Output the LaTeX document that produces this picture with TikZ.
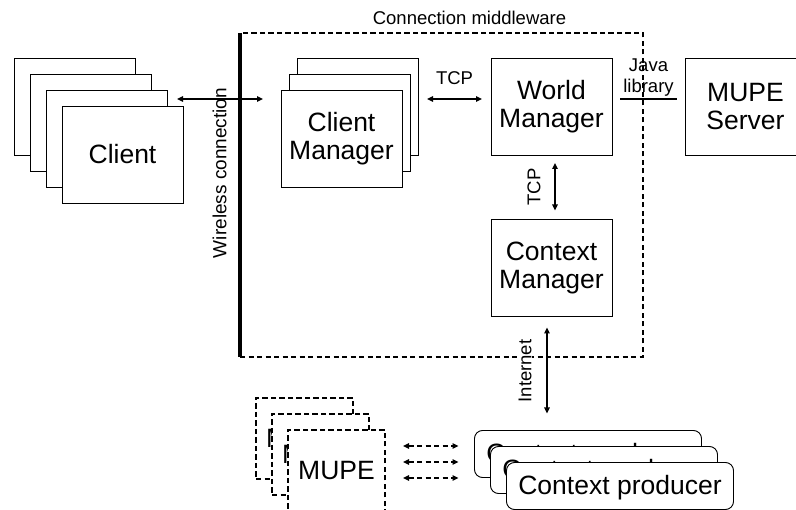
\documentclass[tikz,border=0pt]{standalone}
\usepackage{fontspec}
\setmainfont{Liberation Sans}
\usetikzlibrary{arrows.meta}

\newcommand{\boxfont}{\fontsize{26.5}{28.5}\selectfont}
\newcommand{\lblfont}{\fontsize{18.5}{21}\selectfont}

\tikzset{
  box/.style={draw, line width=0.9pt, fill=white, outer sep=0pt, inner sep=0pt,
    minimum width=121pt, minimum height=97pt, align=center, font=\boxfont},
  mupebox/.style={draw, line width=1.5pt, dash pattern=on 5.3pt off 3.2pt, fill=white,
    outer sep=0pt, inner sep=0pt, minimum width=97pt, minimum height=81pt, font=\boxfont},
  prodbox/.style={draw, line width=0.9pt, fill=white, rounded corners=8pt, outer sep=0pt,
    inner sep=0pt, minimum width=227pt, minimum height=47pt, text depth=2.6pt, font=\boxfont},
  mwbox/.style={draw, line width=1.5pt, dash pattern=on 5.3pt off 3.2pt, outer sep=0pt,
    minimum width=403pt, minimum height=324pt},
  lbl/.style={font=\lblfont, inner sep=0pt},
  biarrow/.style={>={Triangle[length=6pt,width=5.5pt]}, <->, line width=1.5pt},
  dbiarrow/.style={biarrow, dash pattern=on 5.3pt off 3.2pt},
}

\begin{document}
\begin{tikzpicture}[x=1pt, y=-1pt]
  \useasboundingbox (0,0) rectangle (796,510);
  \clip (0,0) rectangle (796,510);

  \node [mwbox] (mw) at (441.5,195) {};
  \node [lbl, anchor=base] (mwlbl) at (469.5,25) {Connection middleware};
  \draw [line width=4pt] (mw.north west) -- (mw.south west);
  \node [lbl, rotate=90, font=\fontsize{19}{21}\selectfont] (wl) at (219.5,173) {Wireless connection};

  \foreach \i in {1,2,3}
    \node [box] (cl\i) at ({58.5+16*\i},{90.5+16*\i}) {};
  \node [box] (cl4) at (122.5,154.5) {Client};

  \foreach \i in {1,2}
    \node [box] (cm\i) at ({365.5-8*\i},{90.5+16*\i}) {};
  \node [box] (cm3) at (341.5,138.5) {Client\\Manager};

  \node [box] (wm) at (551.5,106.5) {World\\Manager};
  \node [box] (ms) at (745.5,106.5) {MUPE\\Server};
  \node [box] (cxm) at (551.5,268) {Context\\Manager};

  \foreach \i in {1,2,3}
    \node [mupebox] (mu\i) at ({288.5+16*\i},{422.5+16*\i}) {MUPE};
  \foreach \i in {1,2,3}
    \node [prodbox] (cp\i) at ({572+16*\i},{438+16*\i}) {Context producer};

  \draw [biarrow, shorten <=10pt, shorten >=18pt] ([yshift=39.5pt]cl3.east) -- ([yshift=39.5pt]cm3.west);
  \draw [biarrow, shorten <=9pt, shorten >=9pt] ([yshift=7.5pt]cm1.east)
    -- node [lbl, above=14pt] (tcph) {TCP} ([yshift=7.5pt]wm.west);
  \draw [line width=1.5pt, shorten <=8pt, shorten >=8pt] ([yshift=7.5pt]wm.east)
    -- node [lbl, align=center, above=2pt] (java) {Java\\library} ([yshift=7.5pt]ms.west);
  \draw [biarrow, shorten <=8pt, shorten >=9pt] ([xshift=3.5pt]wm.south) -- ([xshift=3.5pt]cxm.north);
  \node [lbl, rotate=90] (tcpv) at (534,187) {TCP};
  \draw [biarrow, shorten <=11pt, shorten >=17pt] ([xshift=-4.5pt]cxm.south) -- ([xshift=-4.5pt]cxm.south |- cp1.north);
  \node [lbl, rotate=90, fill=white, inner sep=1pt] (inet) at (525,371) {Internet};

  \foreach \dy in {24.5,8.5,-7.5}
    \draw [dbiarrow, shorten <=18pt, shorten >=16pt] ([yshift=\dy pt]mu3.east) -- ([yshift=\dy pt]mu3.east -| cp1.west);
\end{tikzpicture}
\end{document}
